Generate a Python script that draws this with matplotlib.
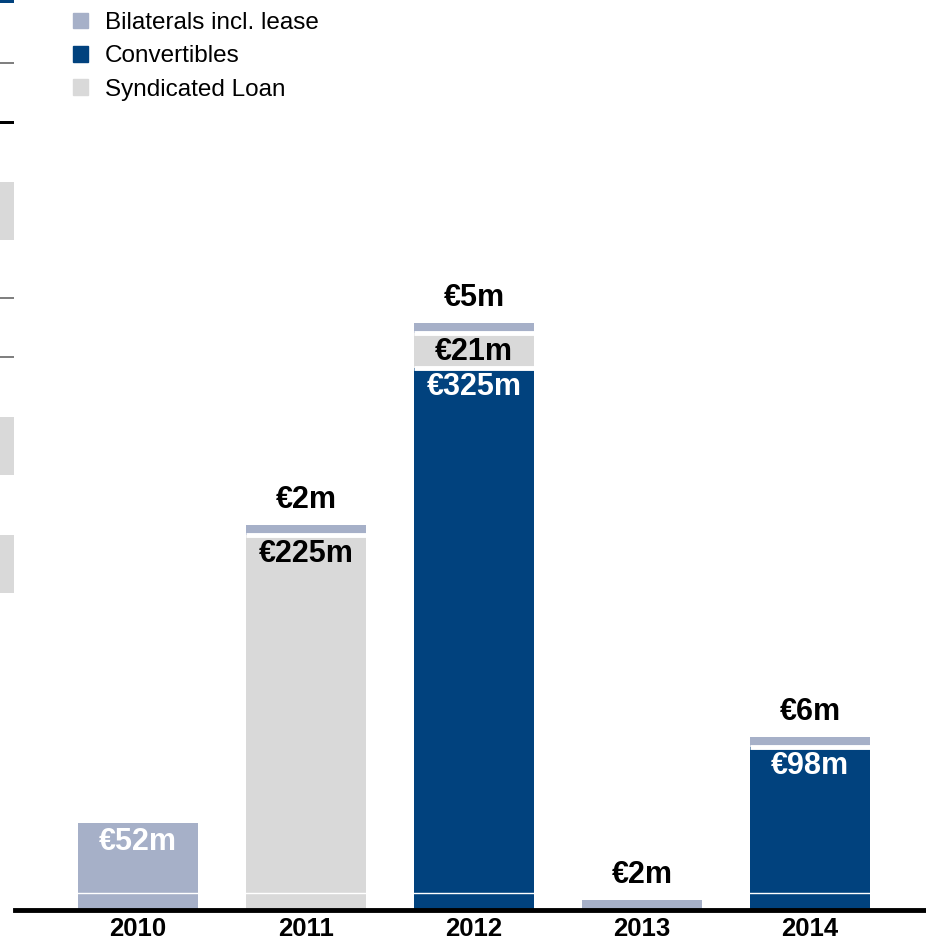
import numpy as np
import matplotlib
matplotlib.use('Agg')
import matplotlib.pyplot as plt
from matplotlib.patches import Patch, Rectangle

plt.rcParams['font.family'] = ['Liberation Sans', 'DejaVu Sans']

# data (EUR m)
years = ['2010', '2011', '2012', '2013', '2014']
convertibles = [0, 0, 325, 0, 98]
syndicated = [0, 225, 21, 0, 0]
bilaterals = [52, 2, 5, 2, 6]

NAVY = '#01427E'
GREY = '#D9D9D9'
BLUEGREY = '#A6B0C8'

W, H = 926, 940
fig = plt.figure(figsize=(W / 100, H / 100), dpi=100)
ax = fig.add_axes([15 / W, 30 / H, 911 / W, 910 / H])

x = np.arange(len(years))
width = 0.714
MIN_H = 6  # smallest drawn segment so tiny amounts stay visible

series = [
    ('Convertibles', convertibles, NAVY, 'white'),
    ('Syndicated Loan', syndicated, GREY, 'black'),
    ('Bilaterals incl. lease', bilaterals, BLUEGREY, 'white'),
]

# which series sits on top of each bar
top_idx = [max(i for i, s in enumerate(series) if s[1][j] > 0) for j in range(len(years))]

bottom = np.zeros(len(years))
for k, (name, vals, col, txtcol) in enumerate(series):
    vals = np.array(vals, float)
    shown = np.where(vals > 0, np.maximum(vals, MIN_H), 0)
    ax.bar(x, shown, bottom=bottom, width=width, color=col, linewidth=0, zorder=2)
    for j in range(len(years)):
        if vals[j] <= 0:
            continue
        if bottom[j] > 0:
            # white gap between stacked segments
            ax.hlines(bottom[j], x[j] - width / 2, x[j] + width / 2, color='white', lw=3.5, zorder=3)
        label = '€%dm' % vals[j]
        if top_idx[j] == k and vals[j] < 20:
            ax.annotate(label, (x[j], bottom[j] + shown[j]), xytext=(0, 7), textcoords='offset points',
                        ha='center', va='bottom', fontsize=22, fontweight='bold', color='black', zorder=5)
        else:
            ax.annotate(label, (x[j], bottom[j] + shown[j]), xytext=(0, -3), textcoords='offset points',
                        ha='center', va='top', fontsize=22, fontweight='bold', color=txtcol, zorder=5)
    bottom += shown

ax.axhline(10.2, color='white', lw=1, zorder=3)
ax.axhline(0, color='black', lw=3.5, zorder=4, clip_on=False)

ax.set_xlim(-0.732, 4.69)
ax.set_ylim(0, 910 / 1.668)
ax.set_xticks(x, years, fontsize=18.5, fontweight='bold')
ax.tick_params(axis='x', length=0, pad=18.5)
plt.setp(ax.get_xticklabels(), va='baseline')
ax.set_yticks([])
for s in ax.spines.values():
    s.set_visible(False)

handles = [Patch(color=BLUEGREY), Patch(color=NAVY), Patch(color=GREY)]
labels = ['Bilaterals incl. lease', 'Convertibles', 'Syndicated Loan']
fig.legend(handles, labels, loc='upper left', bbox_to_anchor=(73 / W, 1 - 12 / H), frameon=False,
           fontsize=17.5, handlelength=0.62, handleheight=0.62, handletextpad=0.7, labelspacing=0.47,
           borderpad=0, borderaxespad=0)

# cut-off pieces of the neighbouring chart at the left edge
def edge_piece(y, h, col):
    fig.add_artist(Rectangle((0, 1 - (y + h) / H), 14 / W, h / H, transform=fig.transFigure,
                             color=col, lw=0))

edge_piece(0, 3, NAVY)
edge_piece(62, 2, '#808080')
edge_piece(121, 3, 'black')
edge_piece(182, 58, GREY)
edge_piece(297, 2, '#808080')
edge_piece(356, 2, '#808080')
edge_piece(417, 58, GREY)
edge_piece(535, 58, GREY)

fig.savefig('out.png', dpi=100)
